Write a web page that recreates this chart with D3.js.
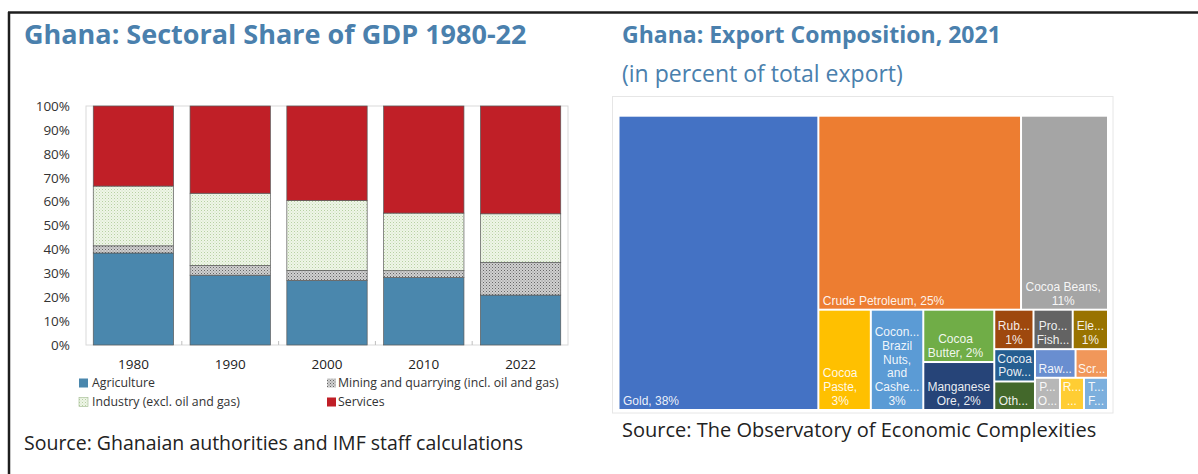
<!DOCTYPE html>
<html>
<head>
<meta charset="utf-8">
<script src="https://cdn.jsdelivr.net/npm/d3@7"></script>
<style>
  html, body { margin: 0; padding: 0; background: #fff; }
  svg { display: block; font-family: "Open Sans", "Noto Sans", sans-serif; }
</style>
</head>
<body>
<svg id="chart" width="1198" height="474"></svg>
<script>
// ---- Sectoral share of GDP (percent of total) ----
const years       = ["1980", "1990", "2000", "2010", "2022"];
const agriculture = [38.5, 29.2, 27.0, 28.2, 20.9];
const mining      = [3.0, 4.1, 4.2, 2.9, 13.7];
const industry    = [25.0, 30.2, 29.3, 24.1, 20.3];
const services    = [33.5, 36.5, 39.5, 44.8, 45.1];
const sectorKeys  = ["agriculture", "mining", "industry", "services"];
const sectorNames = ["Agriculture", "Mining and quarrying (incl. oil and gas)",
                     "Industry (excl. oil and gas)", "Services"];
const yTicks      = [0, 10, 20, 30, 40, 50, 60, 70, 80, 90, 100];

// ---- Export composition, 2021 (percent of total exports) ----
const products = ["Gold", "Crude Petroleum", "Cocoa Beans", "Cocoa Paste",
  "Coconuts, Brazil Nuts, and Cashews", "Cocoa Butter", "Manganese Ore",
  "Rubber", "Processed Fish", "Electricity", "Cocoa Powder", "Other Oily Seeds",
  "Raw Aluminium", "Scrap Iron", "Palm Oil", "Rough Wood", "Tropical Fruits"];
const exportShares = [38.0, 25.4, 10.9, 3.4, 3.4, 2.4, 2.2,
  1.0, 1.0, 0.9, 0.85, 0.75, 0.75, 0.6, 0.52, 0.5, 0.5];
const productColors = ["#4472C4", "#ED7D31", "#A5A5A5", "#FFC000", "#5B9BD5", "#70AD47",
  "#264478", "#9E480E", "#636363", "#997300", "#255E91", "#43682B", "#698ED0",
  "#F1975A", "#B7B7B7", "#FFCD33", "#7CAFDD"];
// Tile nesting (indices into products); levels alternate column / row splits
const tileNesting = [0, [[1, 2], [3, 4, [5, 6], [[7, 8, 9], [[10, 11], [[12, 13], [14, 15, 16]]]]]]];

const svg = d3.select("#chart");
const titleBlue = "#4a80ad";

// Page frame (top rule and left rule)
svg.append("line").attr("x1", 8).attr("x2", 1198).attr("y1", 12.5).attr("y2", 12.5)
  .attr("stroke", "#1e1e1e").attr("stroke-width", 2.5);
svg.append("line").attr("x1", 9).attr("x2", 9).attr("y1", 12).attr("y2", 474)
  .attr("stroke", "#1e1e1e").attr("stroke-width", 2.5);

// ================= Left panel: stacked bars =================
svg.append("text").attr("x", 24).attr("y", 44)
  .attr("font-size", 27).attr("font-weight", 700).attr("fill", titleBlue)
  .text("Ghana: Sectoral Share of GDP 1980-22");

const defs = svg.append("defs");
const pMining = defs.append("pattern").attr("id", "pat-mining")
  .attr("patternUnits", "userSpaceOnUse").attr("width", 3).attr("height", 3);
pMining.append("rect").attr("width", 3).attr("height", 3).attr("fill", "#d0d0d0");
pMining.append("rect").attr("x", 0).attr("y", 0).attr("width", 1).attr("height", 1).attr("fill", "#666");
pMining.append("rect").attr("x", 1.5).attr("y", 1.5).attr("width", 1).attr("height", 1).attr("fill", "#858585");

const pIndustry = defs.append("pattern").attr("id", "pat-industry")
  .attr("patternUnits", "userSpaceOnUse").attr("width", 3).attr("height", 3);
pIndustry.append("rect").attr("width", 3).attr("height", 3).attr("fill", "#eef5e8");
pIndustry.append("rect").attr("x", 0).attr("y", 0).attr("width", 1).attr("height", 1).attr("fill", "#b7d1a2");
pIndustry.append("rect").attr("x", 1.5).attr("y", 1.5).attr("width", 1).attr("height", 1).attr("fill", "#cfe1bf");

const sectorFill = {
  agriculture: "#4a87ad",
  mining: "url(#pat-mining)",
  industry: "url(#pat-industry)",
  services: "#c01f27"
};

const plot = { left: 86, right: 568, top: 106, bottom: 345 };
const x = d3.scaleBand().domain(years).range([plot.left, plot.right])
  .paddingInner(0.17).paddingOuter(0.075);
const y = d3.scaleLinear().domain([0, 100]).range([plot.bottom, plot.top]);

const rows = years.map((yr, i) => ({
  year: yr, agriculture: agriculture[i], mining: mining[i],
  industry: industry[i], services: services[i]
}));
const stacked = d3.stack().keys(sectorKeys)(rows);

// plot frame
svg.append("rect").attr("x", plot.left).attr("y", plot.top)
  .attr("width", plot.right - plot.left).attr("height", plot.bottom - plot.top)
  .attr("fill", "none").attr("stroke", "#d9d9d9").attr("stroke-width", 1);

const barG = svg.append("g");
stacked.forEach(layer => {
  barG.append("g").selectAll("rect").data(layer).join("rect")
    .attr("x", d => x(d.data.year))
    .attr("width", x.bandwidth())
    .attr("y", d => y(d[1]))
    .attr("height", d => y(d[0]) - y(d[1]))
    .attr("fill", sectorFill[layer.key])
    .attr("stroke", "#5a5a5a").attr("stroke-width", 0.7);
});

// category separators on the baseline
const step = x.step();
svg.append("g").selectAll("line").data(years.slice(1)).join("line")
  .attr("x1", d => x(d) - step * x.paddingInner() / 2)
  .attr("x2", d => x(d) - step * x.paddingInner() / 2)
  .attr("y1", plot.bottom - 4).attr("y2", plot.bottom)
  .attr("stroke", "#bfbfbf").attr("stroke-width", 1);

// y axis
const yAxis = svg.append("g").attr("transform", `translate(${plot.left},0)`)
  .call(d3.axisLeft(y).tickValues(yTicks).tickFormat(d => d + "%").tickSize(0).tickPadding(16));
yAxis.select(".domain").remove();
yAxis.selectAll("text").attr("font-size", 13.5).attr("fill", "#333")
  .attr("font-family", '"Open Sans", sans-serif');

// x axis
const xAxis = svg.append("g").attr("transform", `translate(0,${plot.bottom})`)
  .call(d3.axisBottom(x).tickSize(0).tickPadding(14));
xAxis.select(".domain").remove();
xAxis.selectAll("text").attr("font-size", 13.5).attr("fill", "#222")
  .attr("font-family", '"Open Sans", sans-serif');

// legend
const legendPos = [[79, 383], [327, 383], [79, 402], [327, 402]];
const legend = svg.append("g").selectAll("g").data(sectorKeys).join("g")
  .attr("transform", (d, i) => `translate(${legendPos[i][0]},${legendPos[i][1]})`);
legend.append("rect").attr("x", 0).attr("y", -4.5).attr("width", 9).attr("height", 9)
  .attr("fill", d => sectorFill[d]).attr("stroke", d => d === "industry" ? "#9fb98d" : "none")
  .attr("stroke-width", 0.6);
legend.append("text").attr("x", d => d === "agriculture" || d === "industry" ? 13 : 11)
  .attr("y", 4.3).attr("font-size", 12.3).attr("fill", "#333")
  .text((d, i) => sectorNames[i]);

svg.append("text").attr("x", 24).attr("y", 450).attr("font-size", 19.5).attr("fill", "#222")
  .text("Source: Ghanaian authorities and IMF staff calculations");

// ================= Right panel: treemap =================
svg.append("text").attr("x", 622).attr("y", 43)
  .attr("font-size", 23).attr("font-weight", 700).attr("fill", titleBlue)
  .text("Ghana: Export Composition, 2021");
svg.append("text").attr("x", 622).attr("y", 82)
  .attr("font-size", 23).attr("fill", titleBlue)
  .text("(in percent of total export)");

svg.append("rect").attr("x", 612.5).attr("y", 96.5).attr("width", 500.5).attr("height", 316.5)
  .attr("fill", "#fff").attr("stroke", "#e6e6e6").attr("stroke-width", 1);

const tm = { x: 619.5, y: 116.7, w: 1107 - 619.5, h: 409 - 116.7 };
function nest(spec) {
  return Array.isArray(spec)
    ? { children: spec.map(nest) }
    : { name: products[spec], value: exportShares[spec], color: productColors[spec] };
}
const root = d3.hierarchy(nest(tileNesting)).sum(d => d.value || 0);
d3.treemap().tile(d3.treemapSliceDice).size([tm.w, tm.h]).paddingInner(2)(root);

const tmG = svg.append("g").attr("transform", `translate(${tm.x},${tm.y})`);
const leaves = root.leaves();
tmG.selectAll("rect").data(leaves).join("rect")
  .attr("x", d => d.x0).attr("y", d => d.y0)
  .attr("width", d => d.x1 - d.x0).attr("height", d => d.y1 - d.y0)
  .attr("fill", d => d.data.color);

// label wrapping with ellipsis, lines centred on each other, block anchored bottom-left
const labelFont = '"Liberation Sans", Arial, sans-serif';
const labelSize = 12, lineH = 13.8, padFit = 1.5, padX = 3.5, padB = 4, ell = "...";
const meas = svg.append("text").attr("font-family", labelFont)
  .attr("font-size", labelSize).attr("visibility", "hidden");
const measure = s => { meas.text(s); return meas.node().getComputedTextLength(); };
function cutWord(word, maxW) {
  if (measure(word) <= maxW) return word;
  for (let k = word.length - 1; k > 0; k--) {
    const s = word.slice(0, k) + ell;
    if (measure(s) <= maxW) return s;
  }
  return ell;
}
function wrapLabel(text, maxW, maxLines) {
  const words = text.split(" ");
  const lines = [];
  let i = 0;
  while (i < words.length && lines.length < maxLines) {
    let line = words[i];
    if (measure(line) > maxW) { lines.push(cutWord(line, maxW)); i++; continue; }
    i++;
    while (i < words.length && measure(line + " " + words[i]) <= maxW) { line += " " + words[i]; i++; }
    lines.push(line);
  }
  if (i < words.length && lines.length) {
    const last = lines[lines.length - 1];
    if (!last.endsWith(ell)) {
      let base = last;
      while (base.length && measure(base + ell) > maxW) base = base.slice(0, -1);
      lines[lines.length - 1] = base + ell;
    }
  }
  return lines;
}

leaves.forEach(d => {
  const w = d.x1 - d.x0, h = d.y1 - d.y0;
  const maxLines = Math.max(0, Math.floor((h - 2) / lineH));
  if (!maxLines) return;
  const label = `${d.data.name}, ${Math.round(d.data.value)}%`;
  const lines = wrapLabel(label, w - 2 * padFit, maxLines);
  const blockW = d3.max(lines, measure);
  const left = d.x0 + Math.min(padX, (w - blockW) / 2);
  const cx = left + blockW / 2;
  const t = tmG.append("text").attr("font-family", labelFont).attr("font-size", labelSize)
    .attr("fill", "#fff").attr("fill-opacity", 0.92).attr("text-anchor", "middle");
  lines.forEach((ln, k) => {
    t.append("tspan").attr("x", cx)
      .attr("y", d.y1 - padB - (lines.length - 1 - k) * lineH)
      .text(ln);
  });
});
meas.remove();

svg.append("text").attr("x", 622).attr("y", 437).attr("font-size", 20).attr("fill", "#222")
  .text("Source: The Observatory of Economic Complexities");
</script>
</body>
</html>
